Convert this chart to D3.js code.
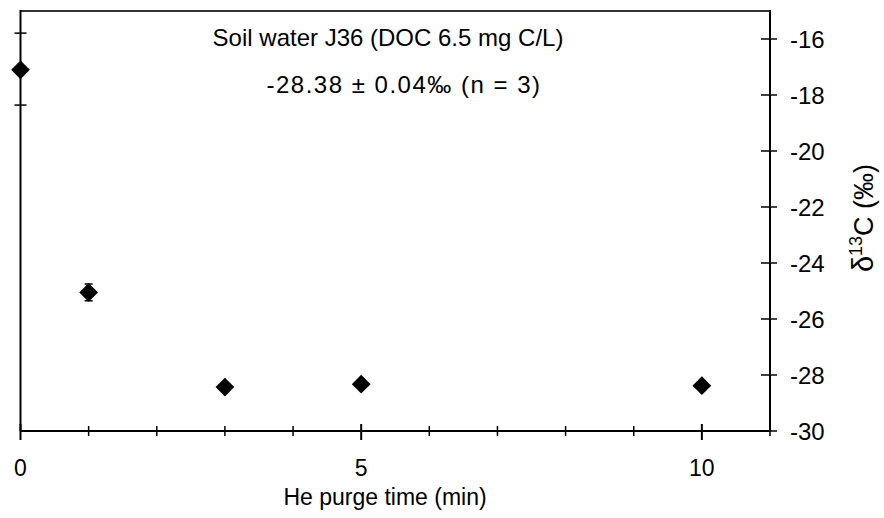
<!DOCTYPE html>
<html><head><meta charset="utf-8">
<script src="https://cdn.jsdelivr.net/npm/d3@7"></script>
<style>body{margin:0;background:#fff}svg{display:block;font-family:"Liberation Sans",Arial,sans-serif}</style>
</head><body><svg id="c" width="884" height="518"></svg>
<script>
const times = [0, 1, 3, 5, 10];
const delta13C = [-17.1, -25.05, -28.43, -28.33, -28.38];
const errors = [0, 0.3, 0, 0, 0];
const xMajorTicks = [0, 5, 10];
const xMinorTicks = [1, 2, 3, 4, 6, 7, 8, 9, 11];
const yTicks = [-16, -18, -20, -22, -24, -26, -28, -30];
const leftTicks = [-15.79, -18.36];
const titleLines = ["Soil water J36 (DOC 6.5 mg C/L)", "-28.38 ± 0.04‰ (n = 3)"];

const svg = d3.select("#c");
const L = 20.5, R = 770, T = 11, B = 431;
const x = d3.scaleLinear().domain([0, 11]).range([L, R]);
const y = d3.scaleLinear().domain([-30, -15]).range([B, T]);

// frame
svg.append("line").attr("x1", L).attr("x2", R).attr("y1", T).attr("y2", T).attr("stroke", "#333").attr("stroke-width", 2);
svg.append("line").attr("x1", L).attr("x2", L).attr("y1", T - 1).attr("y2", B).attr("stroke", "#000").attr("stroke-width", 2);
svg.append("line").attr("x1", R).attr("x2", R).attr("y1", T - 1).attr("y2", B).attr("stroke", "#000").attr("stroke-width", 2);
svg.append("line").attr("x1", L).attr("x2", R).attr("y1", B).attr("y2", B).attr("stroke", "#000").attr("stroke-width", 2);

// x ticks
svg.selectAll(".xmaj").data(xMajorTicks).join("line")
  .attr("x1", d => x(d)).attr("x2", d => x(d)).attr("y1", B - 7).attr("y2", B + 9)
  .attr("stroke", "#000").attr("stroke-width", 2);
svg.selectAll(".xmin").data(xMinorTicks).join("line")
  .attr("x1", d => x(d)).attr("x2", d => x(d)).attr("y1", B - 5).attr("y2", B + 5)
  .attr("stroke", "#000").attr("stroke-width", 1.5);
svg.selectAll(".xl").data(xMajorTicks).join("text")
  .attr("x", d => x(d)).attr("y", 476).attr("text-anchor", "middle")
  .attr("font-size", 23).text(d => d);
svg.append("text").attr("x", 385).attr("y", 505).attr("text-anchor", "middle")
  .attr("font-size", 23).text("He purge time (min)");

// right y ticks
svg.selectAll(".yt").data(yTicks).join("line")
  .attr("x1", R - 9).attr("x2", R + 7).attr("y1", d => y(d)).attr("y2", d => y(d))
  .attr("stroke", "#000").attr("stroke-width", 1.5);
svg.selectAll(".yl").data(yTicks).join("text")
  .attr("x", 790).attr("y", d => y(d)).attr("dy", "0.36em")
  .attr("font-size", 24).text(d => d);
// left ticks
svg.selectAll(".lt").data(leftTicks).join("line")
  .attr("x1", L - 6).attr("x2", L + 6).attr("y1", d => y(d)).attr("y2", d => y(d))
  .attr("stroke", "#000").attr("stroke-width", 1.5);

// y title
const yt = svg.append("text").attr("transform", "translate(873,218) rotate(-90)")
  .attr("text-anchor", "middle").attr("font-size", 27);
yt.append("tspan").attr("font-size", 29).text("δ");
yt.append("tspan").attr("font-size", 18).attr("dy", -11).text("13");
yt.append("tspan").attr("dy", 11).text("C (‰)");

// title lines
svg.selectAll(".tt").data(titleLines).join("text")
  .attr("x", (d, i) => i ? 404 : 388).attr("y", (d, i) => 46 + i * 47).attr("text-anchor", "middle")
  .attr("font-size", 24).attr("letter-spacing", (d, i) => i ? 1.5 : 0).text(d => d);

const data = times.map((t, i) => ({t, v: delta13C[i], e: errors[i]}));
// error bars
const eb = data.filter(d => d.e > 0);
svg.selectAll(".eb").data(eb).join("line")
  .attr("x1", d => x(d.t)).attr("x2", d => x(d.t)).attr("y1", d => y(d.v - d.e)).attr("y2", d => y(d.v + d.e))
  .attr("stroke", "#000").attr("stroke-width", 1.5);
svg.selectAll(".ebc").data(eb.flatMap(d => [d.v - d.e, d.v + d.e].map(v => ({t: d.t, v})))).join("line")
  .attr("x1", d => x(d.t) - 4).attr("x2", d => x(d.t) + 4).attr("y1", d => y(d.v)).attr("y2", d => y(d.v))
  .attr("stroke", "#000").attr("stroke-width", 1.5);

const sym = d3.symbol().type(d3.symbolSquare).size(176);
svg.selectAll(".pt").data(data).join("path")
  .attr("d", sym)
  .attr("transform", d => `translate(${x(d.t)},${y(d.v)}) rotate(45)`)
  .attr("fill", "#000");
</script></body></html>
